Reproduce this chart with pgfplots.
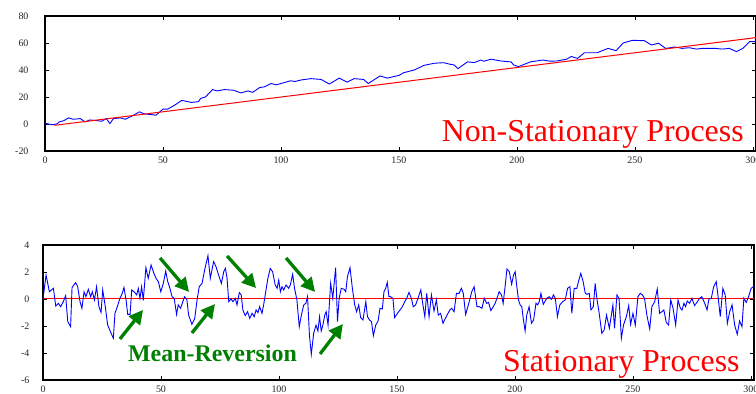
\documentclass[border=0pt]{standalone}
\usepackage{pgfplots}
\pgfplotsset{compat=1.18}
\usepackage{fontspec}
\setmainfont{Liberation Serif}
\usetikzlibrary{arrows.meta}
\definecolor{mygreen}{RGB}{0,128,0}

\pgfplotstableread{
x y
0 0.5
3 -0.5
5 0
6 1.5
8 2.5
10 4.5
12 3.5
15 4
17 1.5
19 3
22 2.5
24 2
26 4
27.5 0.3
29 4
32 4.5
34 3.5
37 6
40 9
42 7.5
45 7
47 6.5
50 11
52 11
55 14
58 17.5
62 16
65 16.5
66 19
68 20
71 25.5
73 24.5
76 25.5
80 25
83 23
86 24.5
88 23.5
91 27
93 27.5
95.8 30
98 29
100 30
104 32
106 31.5
108.5 32.6
112.7 33.6
117 33
120.5 29.6
124.7 34
128 31
131 33.6
135 33
137 30
142 35.6
145 34
150 36
152 38
156.5 40
160.7 43.5
165 45
169 45.4
171 44.5
173.4 43.7
175 41
179 46
182 45.5
184.7 47.4
186 46.5
189 48
193 46.7
197.5 46
198.6 43.7
200.7 42.5
205.7 46
211 47.4
214 46.5
217 46.7
221 48
223 50
225.7 48.6
228.6 52.8
234 52.8
238.6 56
242 54.3
245 60
249 62
254 61.7
257 58.5
260 59.8
263 56
267 57
270 56
273 56.5
276 55.5
278.6 56
284 56
287 55.5
290 56
293 53.6
295.7 56
298.6 61
301 61
}\toptable

\pgfplotstableread{
x y
0 0
1.3 1.78
2.7 0.54
4.4 0.79
5.4 -0.52
6.5 -0.32
7.5 -0.57
8.6 -0.2
9.6 0.25
10.5 -1.68
11.7 -2.05
12.3 0.84
13.8 1.21
14.7 0.91
15.7 -0.2
16.5 -0.69
17.4 0.54
18.2 0.17
19.2 0.72
20.2 0.17
20.9 0.54
21.8 -0.07
22.7 0.91
23.7 -0.57
24.6 -0.99
25.3 0.67
26.4 -0.57
27.4 -1.93
28.7 -2.47
29.8 -2.91
30.5 -1.06
31.5 -0.57
32.6 0.05
33.6 0.42
34.3 0.86
35.2 -0.07
35.9 -1.14
36.9 -1.14
37.6 0.67
38.6 0.54
39.7 0.3
40.4 0.79
41.1 0.05
41.8 0.91
42.5 -0.1
43.6 2.32
44.6 1.53
45.8 2.52
47.0 1.9
47.9 1.53
48.9 1.28
49.9 0.54
51.0 1.16
52.0 2.07
52.8 1.33
53.8 0.79
54.7 0.17
55.6 0.05
56.6 -1.14
57.3 -0.44
58.3 -0.69
59.5 -0.07
60.0 0.17
61.0 -0.07
61.7 -1.19
63.1 -1.88
64.3 -1.43
65.3 -0.07
66.2 0.91
67.4 1.16
68.5 2.15
69.9 3.21
70.9 1.53
72.3 2.77
73.3 2.40
74.4 1.78
75.6 1.16
76.6 2.02
77.3 2.27
78.0 1.53
78.7 -0.2
79.7 0
80.5 -0.2
81.5 0.05
82.2 -0.44
83.2 0.47
84.0 0.3
84.7 -0.81
85.7 -1.23
86.7 -0.94
87.6 -1.43
88.6 -1.06
89.5 -1.31
90.3 -0.81
91.1 -1.01
91.8 -0.57
92.8 -1.06
93.5 -0.44
94.5 0.67
95.3 1.53
96.3 2.27
97.3 2.02
98.4 1.04
99.2 0.79
99.9 1.41
100.6 0.54
101.3 0.91
102.0 0.67
103.0 1.04
104.1 0.79
104.8 1.04
105.8 1.83
106.6 0.79
107.6 -0.07
108.6 -2.05
109.5 -1.19
110.5 -0.44
111.4 -0.32
112.1 0.17
112.9 -2.67
113.7 -4.1
114.7 -2.54
115.7 -1.93
116.5 -2.37
117.2 -1.31
117.9 -2.37
118.6 -1.93
119.4 -1.19
120.0 -0.94
120.8 -1.93
121.9 1.16
122.8 0.05
124.0 2.32
124.8 -1.68
125.5 0.05
126.4 0.79
127.6 0.72
128.3 0.54
129.0 1.65
130.1 2.32
131.1 0.79
132.1 -0.44
132.9 -0.94
133.8 -0.44
134.6 -1.38
135.6 -1.56
136.8 -0.2
137.5 -1.31
138.4 -1.56
139.2 -1.68
140.0 -2.72
141.0 -1.93
142.0 -1.63
142.8 -0.69
143.8 -0.74
144.5 0.54
145.2 0.79
145.9 1.23
146.6 0.17
147.3 0.17
148.3 0.05
149.0 -1.38
150.2 -1.06
151.3 -0.81
152.3 -0.57
153.3 -0.2
154.1 0.05
155.1 0.49
156.1 0.05
156.9 -0.57
157.9 -0.44
158.9 0.05
160.1 0.67
160.9 -0.32
161.8 -1.31
162.6 0.42
163.6 -1.31
164.6 0.3
165.7 -0.89
166.7 -0.07
167.5 -1.19
168.5 -1.06
169.5 -1.8
170.4 -1.48
171.4 -1.14
172.4 -0.81
173.2 -0.69
174.2 -0.94
175.2 0.42
176.3 0.42
177.3 0.79
178.1 0.42
179.1 -1.15
180.4 -0.35
181.7 0.54
182.7 0.91
183.9 -0.57
184.9 -0.57
186.0 -0.69
187.0 0.05
188.0 -0.32
188.8 -0.25
189.8 -0.86
190.8 -0.57
191.6 -0.32
192.6 0.17
193.3 0.54
194.3 0.3
195.0 -0.32
195.9 1.04
196.6 2.22
197.6 2.02
198.6 1.09
199.4 1.78
200.1 2.02
200.8 0.91
201.5 -0.07
202.2 -0.44
202.9 -0.57
203.5 -1.43
204.3 -2.37
205.0 -1.19
206.0 -0.57
207.0 -1.8
207.9 -1.56
208.9 -0.32
209.6 -0.44
210.3 -0.2
211.0 0.42
212.0 -0.4
212.8 -0.15
213.5 0.05
214.5 0.17
215.5 -0.02
216.3 0.3
217.1 0.05
218.0 -1.31
219.0 -0.44
220.2 -0.2
221.3 -0.07
222.3 0.79
223.3 0.91
224.1 -1.06
225.1 0.79
226.2 0.79
226.9 1.28
227.9 1.9
228.9 1.28
229.8 0.42
230.5 0.35
231.5 0.42
232.2 -0.81
233.2 -0.57
234.0 1.16
234.7 0.05
235.7 -1.06
236.8 -2.54
237.8 -2.3
238.8 -1.19
240.0 -2.17
241.5 -0.44
242.2 -2.17
243.2 0.3
244.1 0.05
245.1 -2.91
246.0 -1.93
247.2 -1.31
248.2 -0.49
249.0 -1.88
250.0 -1.06
251.0 -1.93
252.1 0.17
253.1 0.42
254.0 0.3
254.9 0.05
255.9 -1.19
257.1 -2.22
258.0 -0.57
259.2 -0.2
260.3 0.74
261.3 -1.06
262.3 -0.94
263.1 -0.81
264.1 -1.73
265.1 -1.93
266.0 -0.07
267.0 -0.69
268.1 -1.93
269.1 -0.07
270.1 -0.69
270.8 -0.81
271.6 -0.32
272.3 -0.57
273.0 -0.15
274.0 -0.32
275.0 0.05
276.1 -0.49
277.3 -0.2
278.2 0.05
279.2 0.17
280.4 -0.32
281.4 -0.81
282.2 0
283.2 0.05
284.2 0.91
285.3 1.28
286.0 0.3
287.0 -1.31
288.1 0.79
289.1 0.3
290.0 -1.8
291.0 -0.94
292.0 -0.44
293.1 -1.93
294.2 -2.62
295.2 -1.63
296.2 -2.05
297.0 0.05
298.0 -0.25
299.0 0.17
300.1 0.79
301.0 0.91
}\bottable

\pgfplotsset{
  common/.style={
    scale only axis,
    width=711bp, height=135bp,
    anchor=south west,
    xmin=0, xmax=301.3,
    xtick={0,50,...,300},
    clip=false,
    axis line style={line width=1.3bp},
    tick style={black, line width=0.8bp},
    major tick length=4bp,
    tick label style={font=\fontsize{10}{11}\selectfont, text=black!85},
    x tick label style={yshift=-2.5bp},
    /pgf/number format/assume math mode=true,
    /pgf/number format/1000 sep={},
  }
}

\begin{document}
\begin{tikzpicture}
\useasboundingbox (0,0) rectangle (756bp,394bp);

% top axis
\begin{axis}[common,
  at={(45bp,243bp)},
  ymin=-20, ymax=80, ytick={-20,0,...,80},
  y tick label style={xshift=-13bp},
]
\addplot[blue, line width=0.9bp] table[x=x,y=y] {\toptable};
\addplot[red, line width=1bp] coordinates {(4,-1) (301.3,64)};
\node[anchor=base east, red, font=\fontsize{32}{34}\selectfont, inner sep=0pt]
  at (rel axis cs:0.983,0.067) {Non-Stationary Process};
\end{axis}

% bottom axis
\begin{axis}[common,
  at={(43bp,14bp)},
  ymin=-6, ymax=4, ytick={-6,-4,...,4},
  y tick label style={xshift=-10bp},
]
\addplot[red, line width=1bp] coordinates {(0,0) (301.3,0)};
\addplot[blue, line width=0.9bp] table[x=x,y=y] {\bottable};
\node[anchor=base east, red, font=\fontsize{32}{34}\selectfont, inner sep=0pt]
  at (rel axis cs:0.980,0.063) {Stationary Process};
\node[anchor=base west, mygreen, font=\fontsize{24}{26}\selectfont\bfseries, inner sep=0pt]
  at (axis cs:36,-4.64) {Mean-Reversion};
\begin{scope}[mygreen, line width=3.3bp, -{Triangle[length=14bp,width=14bp]}]
  \draw (axis cs:32.6,-2.96) -- (axis cs:42.4,-0.81);
  \draw (axis cs:49.6,3.04) -- (axis cs:61.9,0.52);
  \draw (axis cs:63.1,-2.52) -- (axis cs:72.9,-0.37);
  \draw (axis cs:78,3.19) -- (axis cs:90.3,0.81);
  \draw (axis cs:103,3.04) -- (axis cs:115.3,0.52);
  \draw (axis cs:117.4,-4.07) -- (axis cs:127.1,-1.85);
\end{scope}
\end{axis}
\end{tikzpicture}
\end{document}
